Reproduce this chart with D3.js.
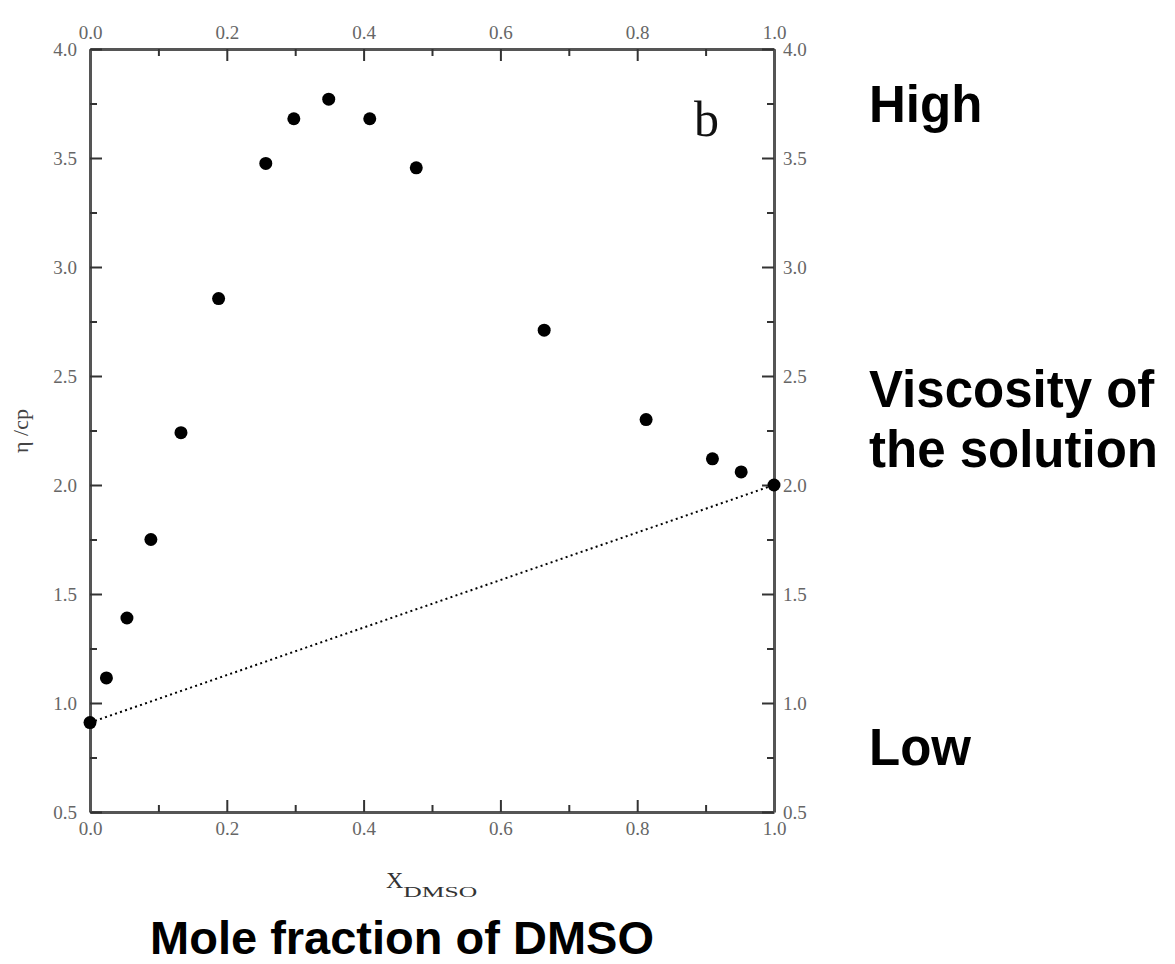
<!DOCTYPE html>
<html>
<head>
<meta charset="utf-8">
<script src="https://cdn.jsdelivr.net/npm/d3@7"></script>
<style>
  body { margin: 0; background: #fff; }
  svg { display: block; }
</style>
</head>
<body>
<div id="chart"></div>
<script>
// mole fraction of DMSO
const xDmso = [0.0, 0.024, 0.054, 0.089, 0.133, 0.188, 0.257, 0.298, 0.349, 0.409, 0.477, 0.664, 0.813, 0.910, 0.952, 1.0];
// viscosity in cp
const eta = [0.91, 1.115, 1.39, 1.75, 2.24, 2.855, 3.475, 3.68, 3.77, 3.68, 3.455, 2.71, 2.30, 2.12, 2.06, 2.0];
// ideal (linear) mixing line between the pure liquids
const idealX = [0.0, 1.0];
const idealY = [0.91, 2.0];

const xMajor = [0, 0.2, 0.4, 0.6, 0.8, 1.0];
const xMinor = [0.1, 0.3, 0.5, 0.7, 0.9];
const yMajor = [0.5, 1.0, 1.5, 2.0, 2.5, 3.0, 3.5, 4.0];
const yMinor = [0.75, 1.25, 1.75, 2.25, 2.75, 3.25, 3.75];

const width = 1175, height = 964;
const plotLeft = 90, plotRight = 774, plotTop = 49, plotBottom = 812;

const svg = d3.select("#chart").append("svg")
    .attr("width", width)
    .attr("height", height);

const x = d3.scaleLinear().domain([0, 1]).range([plotLeft, plotRight]);
const y = d3.scaleLinear().domain([0.5, 4]).range([plotBottom, plotTop]);

const fmt = d3.format(".1f");
const axisColor = "#555";

// draw one side of the frame: major ticks with labels, minor ticks without
function drawAxis(axisFn, scale, major, minor, transform, labelPad) {
    const g = svg.append("g").attr("transform", transform);
    g.call(axisFn(scale).tickValues(major).tickFormat(fmt)
        .tickSizeInner(-12).tickSizeOuter(0).tickPadding(labelPad));
    g.append("g").call(axisFn(scale).tickValues(minor).tickFormat("")
        .tickSizeInner(-7).tickSizeOuter(0))
        .select(".domain").remove();
    g.selectAll(".domain").attr("stroke", axisColor).attr("stroke-width", 3);
    g.selectAll(".tick line").attr("stroke", "#333").attr("stroke-width", 2);
    g.selectAll(".tick text")
        .attr("font-family", "'Liberation Serif', 'DejaVu Serif', serif")
        .attr("font-size", 19)
        .attr("fill", "#666");
    return g;
}

drawAxis(d3.axisBottom, x, xMajor, xMinor, `translate(0,${plotBottom})`, 10);
drawAxis(d3.axisTop, x, xMajor, xMinor, `translate(0,${plotTop})`, 10);
drawAxis(d3.axisLeft, y, yMajor, yMinor, `translate(${plotLeft},0)`, 13);
drawAxis(d3.axisRight, y, yMajor, yMinor, `translate(${plotRight},0)`, 9);

// dotted ideal line
const line = d3.line().x(d => x(d[0])).y(d => y(d[1]));
svg.append("path")
    .datum(d3.zip(idealX, idealY))
    .attr("d", line)
    .attr("fill", "none")
    .attr("stroke", "#000")
    .attr("stroke-width", 2)
    .attr("stroke-dasharray", "2,3.3");

// data points
svg.append("g").selectAll("circle")
    .data(d3.zip(xDmso, eta))
    .enter()
    .append("circle")
    .attr("cx", d => x(d[0]))
    .attr("cy", d => y(d[1]))
    .attr("r", 6.5)
    .attr("fill", "#000");

// panel letter
svg.append("text")
    .attr("x", 694)
    .attr("y", 136)
    .attr("font-family", "'Liberation Serif', serif")
    .attr("font-size", 50)
    .attr("fill", "#111")
    .text("b");

// y axis title
svg.append("text")
    .attr("transform", "translate(28,431) rotate(-90)")
    .attr("text-anchor", "middle")
    .attr("font-family", "'Liberation Serif', serif")
    .attr("font-size", 22)
    .attr("fill", "#444")
    .text("η /cp");

// x axis title with subscript
const xt = svg.append("text")
    .attr("x", 386)
    .attr("y", 888)
    .attr("font-family", "'Liberation Serif', serif")
    .attr("font-size", 24)
    .attr("fill", "#333");
xt.append("tspan").text("X");
xt.append("tspan").attr("dy", 9).attr("font-size", 15)
    .attr("textLength", 74).attr("lengthAdjust", "spacingAndGlyphs").text("DMSO");

// bold annotations
function boldText(tx, ty, str, size, anchor) {
    svg.append("text")
        .attr("x", tx).attr("y", ty)
        .attr("fill", "#000")
        .attr("font-family", "'Liberation Sans', Arial, sans-serif")
        .attr("font-weight", "bold")
        .attr("font-size", size)
        .attr("text-anchor", anchor || "start")
        .text(str);
}
boldText(869, 122, "High", 51);
boldText(869, 407, "Viscosity of", 51);
boldText(869, 467, "the solution", 51);
boldText(869, 765, "Low", 51);
boldText(402, 954, "Mole fraction of DMSO", 47, "middle");
</script>
</body>
</html>
